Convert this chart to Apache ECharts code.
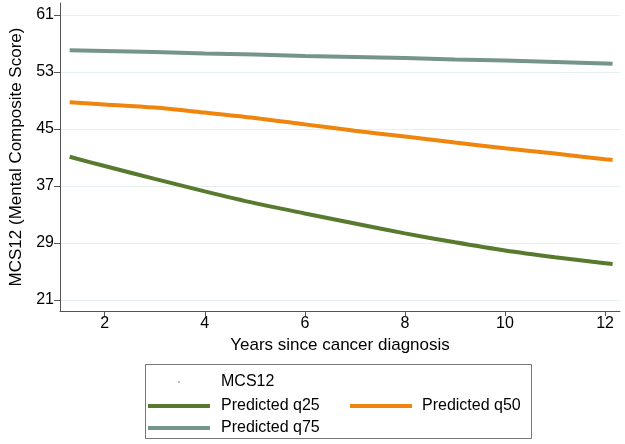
<!DOCTYPE html>
<html>
<head>
<meta charset="utf-8">
<script src="https://cdn.jsdelivr.net/npm/echarts@6/dist/echarts.min.js"></script>
<style>html,body{margin:0;padding:0;background:#fff}#c{width:625px;height:444px}</style>
</head>
<body>
<div id="c"></div>
<script>
// Years since diagnosis (x values of the predicted curves)
var years = [1.3, 2, 3, 4, 5, 6, 7, 8, 9, 10, 11, 12, 12.15];
// Predicted quantile curves of MCS12
var q25 = [41.1, 39.8, 38.0, 36.25, 34.6, 33.15, 31.75, 30.35, 29.1, 27.95, 27.0, 26.15, 26.05];
var q50 = [48.74, 48.45, 48.0, 47.3, 46.55, 45.65, 44.75, 43.95, 43.1, 42.3, 41.55, 40.75, 40.65];
var q75 = [56.05, 55.95, 55.8, 55.6, 55.45, 55.25, 55.1, 54.95, 54.75, 54.6, 54.4, 54.2, 54.15];
// Observed MCS12 scatter (not visible in reference)
var mcs12 = [];
// Tick labels
var xTicks = [2, 4, 6, 8, 10, 12];
var yTicks = [21, 29, 37, 45, 53, 61];
var legendNames = ['MCS12', 'Predicted q25', 'Predicted q50', 'Predicted q75'];

function pairs(xs, ys) { return xs.map(function (x, i) { return [x, ys[i]]; }); }

var colors = { q25: '#577a2e', q50: '#ef850c', q75: '#73958a' };
var font = 'Arial, "Liberation Sans", sans-serif';

var chart = echarts.init(document.getElementById('c'), null, { renderer: 'canvas' });
function legendItem(name, left, top, w, h, pad) {
  return {
    data: [name], left: left, top: top, orient: 'horizontal', padding: 0,
    icon: 'rect', itemWidth: w, itemHeight: h, selectedMode: false,
    textStyle: { fontFamily: font, fontSize: 16, color: '#000', padding: [0, 0, 0, pad] }
  };
}
chart.setOption({
  animation: false,
  backgroundColor: '#fff',
  grid: { left: 56, right: 5, top: 3, bottom: 133 },
  xAxis: {
    type: 'value', min: 1.107, max: 12.298,
    name: 'Years since cancer diagnosis', nameLocation: 'middle', nameGap: 23,
    nameTextStyle: { fontFamily: font, fontSize: 17, color: '#000' },
    axisLine: { show: true, onZero: false, lineStyle: { color: '#555', width: 1 } },
    axisTick: { show: true, length: 5, customValues: xTicks, lineStyle: { color: '#555' } },
    axisLabel: { customValues: xTicks, fontFamily: font, fontSize: 16, color: '#000', margin: 5 },
    splitLine: { show: false }
  },
  yAxis: {
    type: 'value', min: 19.46, max: 62.68,
    name: 'MCS12 (Mental Composite Score)', nameLocation: 'middle', nameGap: 35,
    nameTextStyle: { fontFamily: font, fontSize: 17, color: '#000' },
    axisLine: { show: true, onZero: false, lineStyle: { color: '#555', width: 1 } },
    axisTick: { show: true, length: 6, customValues: yTicks, lineStyle: { color: '#555' } },
    axisLabel: { customValues: yTicks, fontFamily: font, fontSize: 16, color: '#000', margin: 6 },
    splitLine: { show: true, lineStyle: { color: '#e6eff2', width: 1 } }
  },
  legend: [
    legendItem(legendNames[0], 178, 374, 2, 2, 36),
    legendItem(legendNames[1], 148, 398, 62, 4, 6),
    legendItem(legendNames[2], 350, 398, 62, 4, 5),
    legendItem(legendNames[3], 148, 420, 62, 4, 6)
  ],
  graphic: [{
    type: 'rect', shape: { x: 145.5, y: 364.5, width: 386, height: 74 },
    style: { fill: 'none', stroke: '#777', lineWidth: 1 }, z: -1
  }],
  series: [
    { name: legendNames[0], type: 'scatter', data: mcs12, symbolSize: 2, itemStyle: { color: '#aaa' } },
    { name: legendNames[1], type: 'line', data: pairs(years, q25), showSymbol: false, symbol: 'none', smooth: 0.3,
      lineStyle: { color: colors.q25, width: 4 }, itemStyle: { color: colors.q25 } },
    { name: legendNames[2], type: 'line', data: pairs(years, q50), showSymbol: false, symbol: 'none', smooth: 0.3,
      lineStyle: { color: colors.q50, width: 4 }, itemStyle: { color: colors.q50 } },
    { name: legendNames[3], type: 'line', data: pairs(years, q75), showSymbol: false, symbol: 'none',
      lineStyle: { color: colors.q75, width: 4 }, itemStyle: { color: colors.q75 } }
  ]
});
</script>
</body>
</html>
